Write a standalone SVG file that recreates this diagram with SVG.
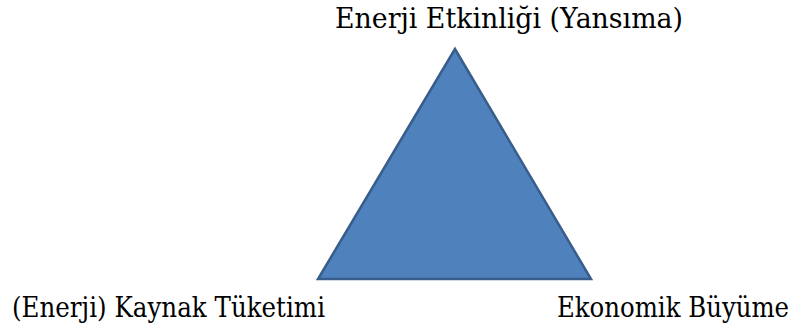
<svg xmlns="http://www.w3.org/2000/svg" width="803" height="328" viewBox="0 0 803 328">
<defs>
<style>
.tri{fill:#4F81BD;stroke:#385D8A;stroke-width:2.5;stroke-linejoin:miter}
.lbl{font-family:'DejaVu Serif','Liberation Serif',serif;font-size:28px;fill:#000}
</style>
</defs>
<rect width="803" height="328" fill="#fff"/>
<g id="triangle"><polygon class="tri" points="455,49 318,279 591,279"/></g>
<g id="connectors"></g>
<g id="node-top"><text class="lbl" x="335" y="28" textLength="348" lengthAdjust="spacingAndGlyphs">Enerji Etkinliği (Yansıma)</text></g>
<g id="node-left"><text class="lbl" x="12" y="317" textLength="313" lengthAdjust="spacingAndGlyphs">(Enerji) Kaynak Tüketimi</text></g>
<g id="node-right"><text class="lbl" x="557" y="317" textLength="232" lengthAdjust="spacingAndGlyphs">Ekonomik Büyüme</text></g>
</svg>
